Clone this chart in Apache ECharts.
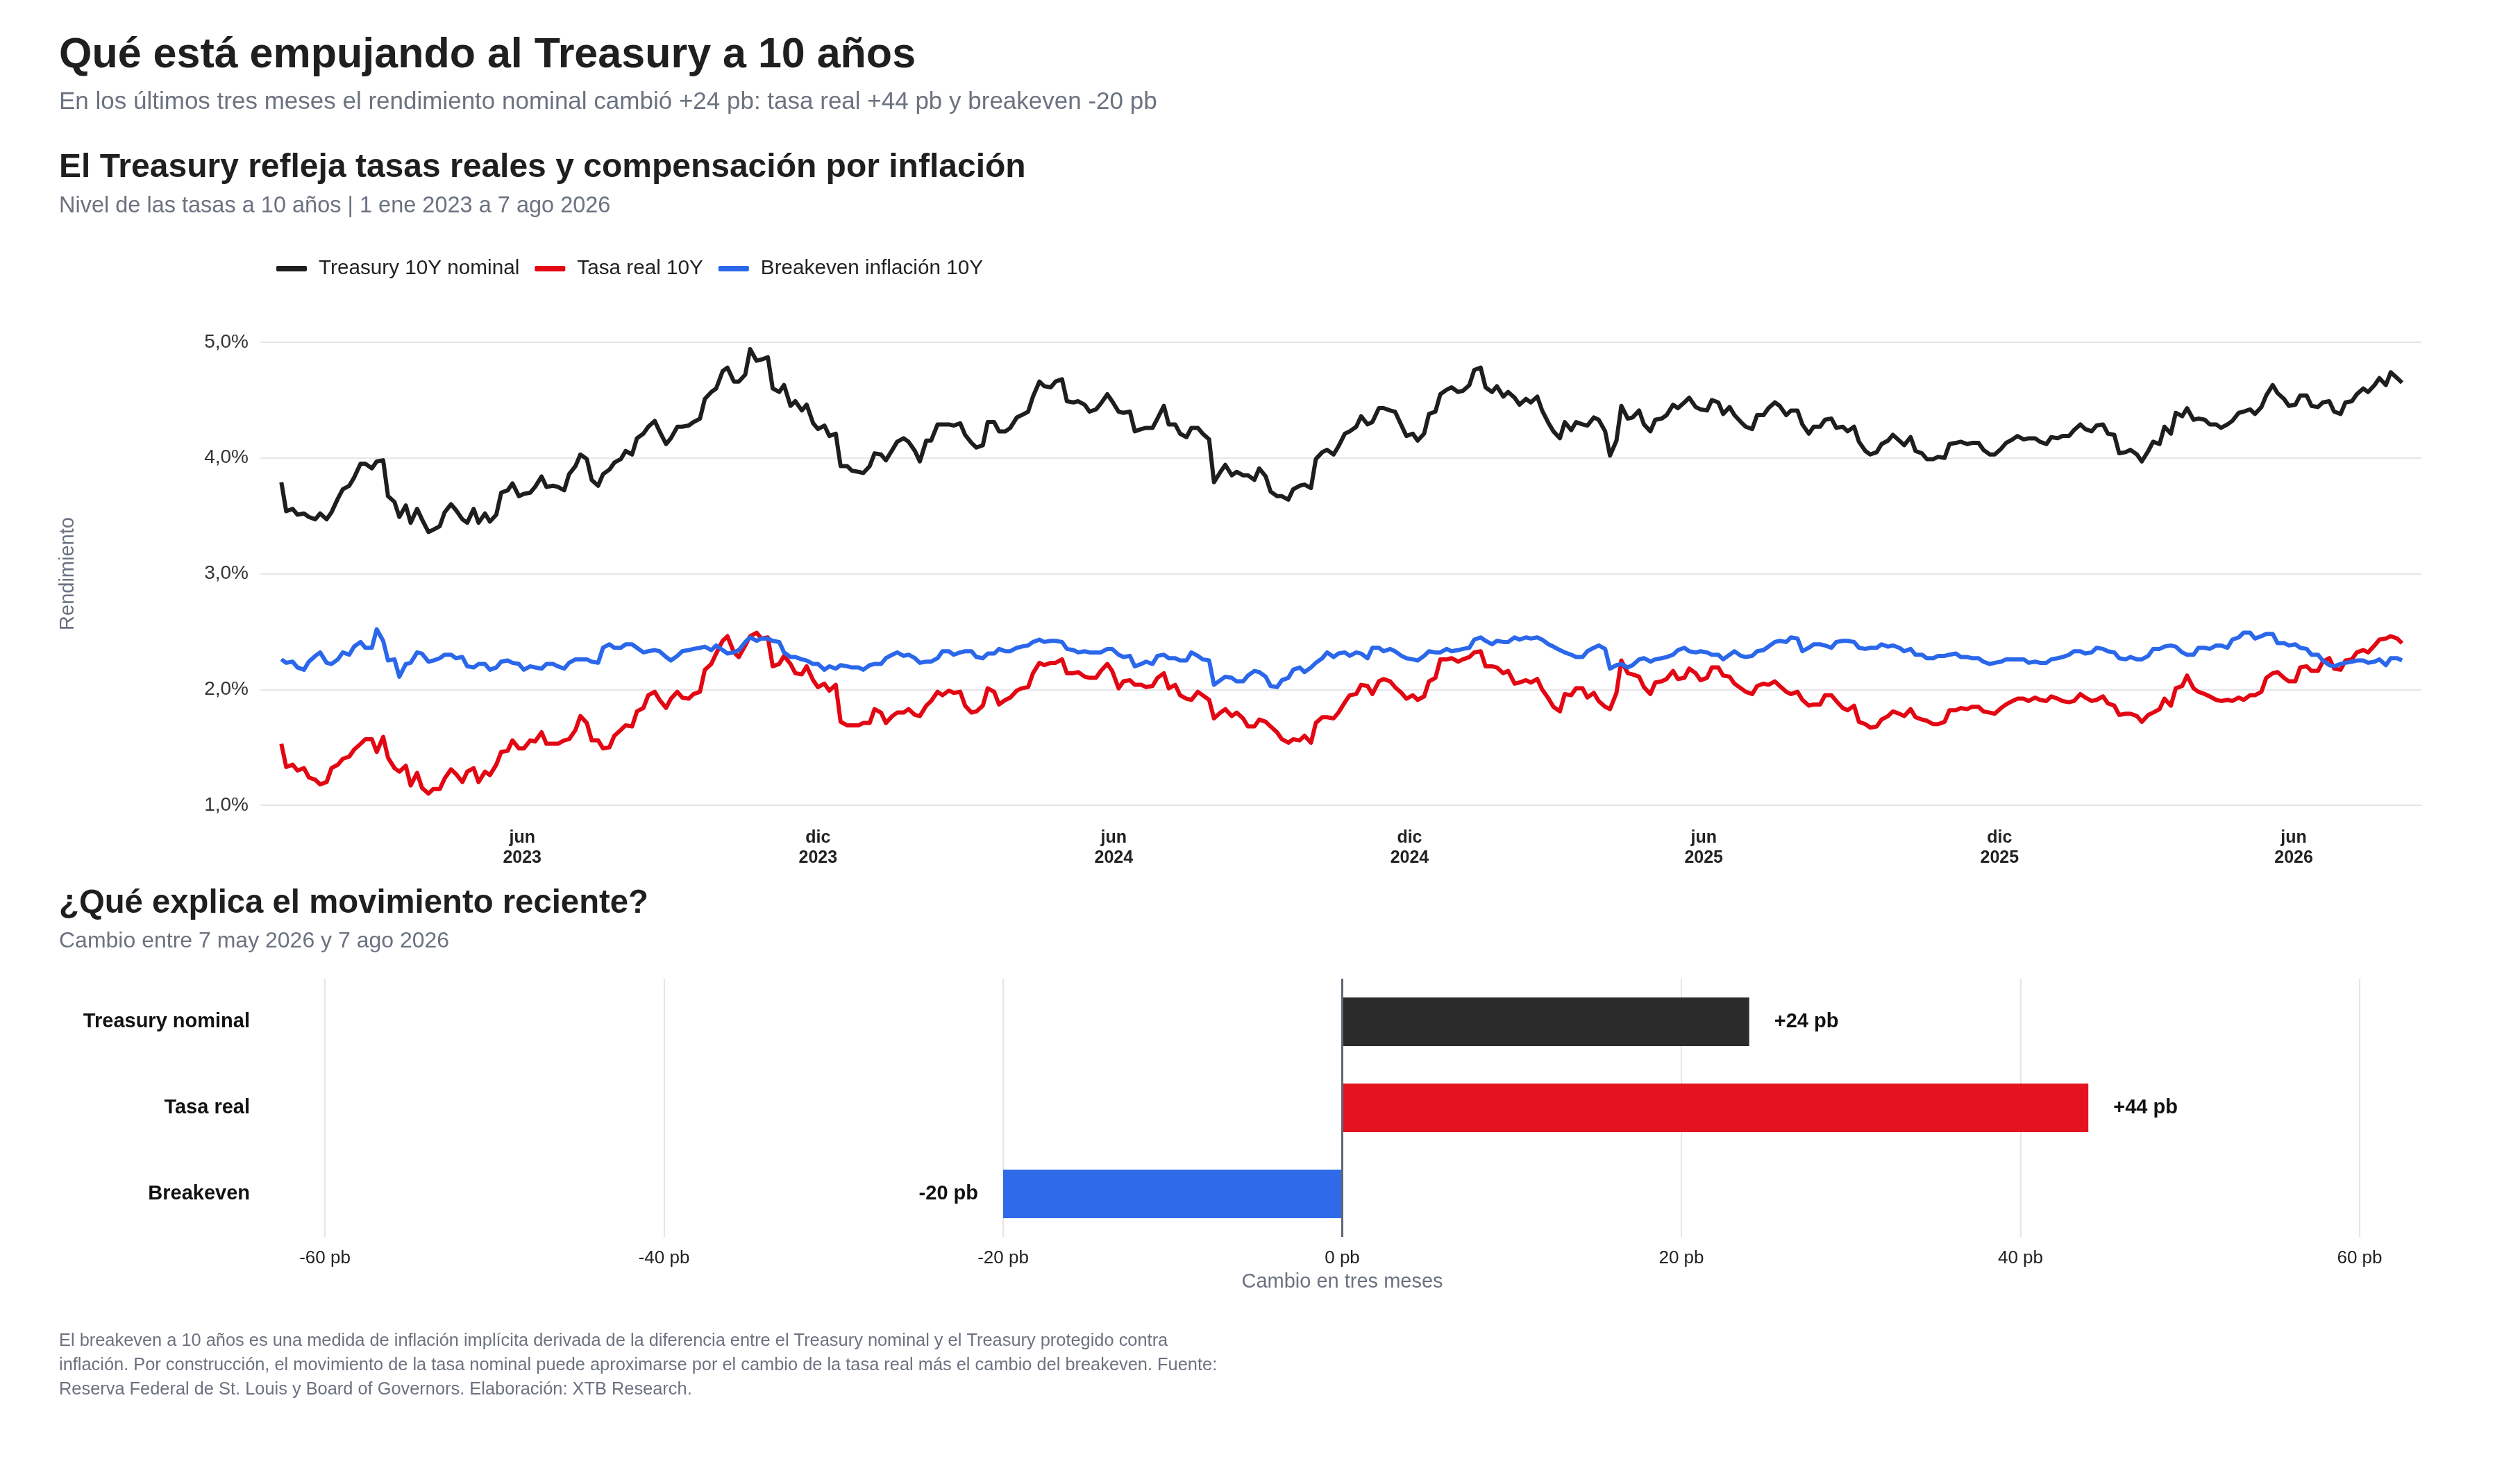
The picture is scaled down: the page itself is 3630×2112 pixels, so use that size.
<!DOCTYPE html>
<html lang="es">
<head>
<meta charset="utf-8">
<title>Treasury a 10 años</title>
<script src="https://cdn.jsdelivr.net/npm/echarts@6.0.0/dist/echarts.min.js"></script>
<style>
  html, body { margin: 0; padding: 0; background: #fff; }
  #main { width: 3630px; height: 2112px; }
</style>
</head>
<body>
<div id="main"></div>
<script>
/* datos: dos puntos por semana (martes y viernes),
   desde el martes 3 ene 2023 hasta el viernes 7 ago 2026 */
var inicio = [2023, 0, 3];

var nominal = [
	3.79, 3.54, 3.56, 3.51, 3.52, 3.49, 3.47, 3.52, 3.47, 3.53,
	3.65, 3.73, 3.76, 3.83, 3.95, 3.95, 3.91, 3.97, 3.98, 3.67,
	3.62, 3.49, 3.59, 3.44, 3.56, 3.47, 3.36, 3.38, 3.41, 3.53,
	3.60, 3.55, 3.47, 3.44, 3.56, 3.44, 3.52, 3.45, 3.51, 3.70,
	3.72, 3.78, 3.67, 3.69, 3.70, 3.75, 3.84, 3.75, 3.76, 3.75,
	3.72, 3.86, 3.93, 4.03, 3.99, 3.81, 3.76, 3.86, 3.90, 3.96,
	3.99, 4.06, 4.03, 4.17, 4.21, 4.27, 4.32, 4.23, 4.12, 4.17,
	4.27, 4.27, 4.28, 4.31, 4.34, 4.51,
	4.57, 4.60, 4.75, 4.78, 4.66, 4.66, 4.72, 4.94, 4.84, 4.85,
	4.87, 4.60, 4.57, 4.63, 4.45, 4.49, 4.41, 4.46, 4.30, 4.25,
	4.28, 4.19, 4.21, 3.93, 3.93, 3.89, 3.88, 3.87, 3.93, 4.04,
	4.03, 3.98, 4.07, 4.14, 4.17, 4.14, 4.06, 3.97, 4.15, 4.15,
	4.29, 4.29, 4.29, 4.28, 4.30, 4.20, 4.13, 4.09, 4.11, 4.31,
	4.31, 4.23, 4.23, 4.26, 4.35, 4.37, 4.40, 4.53, 4.66, 4.62,
	4.61, 4.66, 4.68, 4.49, 4.48, 4.49, 4.46, 4.40, 4.42, 4.47,
	4.55, 4.49, 4.40, 4.39, 4.40, 4.23,
	4.25, 4.26, 4.26, 4.34, 4.45, 4.29, 4.29, 4.21, 4.18, 4.26,
	4.26, 4.21, 4.16, 3.79, 3.88, 3.94, 3.85, 3.88, 3.85, 3.85,
	3.81, 3.91, 3.84, 3.71, 3.67, 3.67, 3.64, 3.73, 3.76, 3.77,
	3.74, 3.99, 4.05, 4.07, 4.03, 4.10, 4.21, 4.23, 4.27, 4.36,
	4.29, 4.31, 4.43, 4.43, 4.41, 4.40, 4.28, 4.19, 4.21, 4.15,
	4.21, 4.38, 4.40, 4.55, 4.59, 4.61, 4.57, 4.58, 4.63, 4.76,
	4.78, 4.61, 4.57, 4.62, 4.53, 4.57, 4.52, 4.46, 4.51, 4.48,
	4.53, 4.41, 4.30, 4.23, 4.17, 4.31,
	4.24, 4.31, 4.29, 4.28, 4.35, 4.33, 4.23, 4.02, 4.15, 4.45,
	4.34, 4.35, 4.41, 4.29, 4.23, 4.33, 4.34, 4.37, 4.46, 4.43,
	4.48, 4.52, 4.44, 4.42, 4.41, 4.50, 4.48, 4.38, 4.44, 4.37,
	4.31, 4.27, 4.25, 4.37, 4.37, 4.43, 4.48, 4.45, 4.37, 4.41,
	4.41, 4.29, 4.21, 4.27, 4.27, 4.33, 4.34, 4.26, 4.27, 4.23,
	4.27, 4.14, 4.06, 4.03, 4.05, 4.12, 4.15, 4.20, 4.15, 4.11,
	4.18, 4.06, 4.04, 3.99, 3.99, 4.01, 4.00, 4.12, 4.13, 4.14,
	4.12, 4.13, 4.13, 4.07, 4.03, 4.03,
	4.08, 4.13, 4.16, 4.19, 4.16, 4.17, 4.17, 4.14, 4.12, 4.18,
	4.17, 4.19, 4.19, 4.24, 4.29, 4.25, 4.23, 4.28, 4.29, 4.21,
	4.20, 4.04, 4.05, 4.07, 4.03, 3.97, 4.06, 4.14, 4.12, 4.27,
	4.21, 4.39, 4.36, 4.43, 4.33, 4.34, 4.33, 4.29, 4.29, 4.26,
	4.29, 4.32, 4.39, 4.40, 4.42, 4.38, 4.44, 4.54, 4.63, 4.56,
	4.51, 4.45, 4.46, 4.54, 4.54, 4.45, 4.44, 4.48, 4.49, 4.40,
	4.38, 4.48, 4.49, 4.55, 4.60, 4.57, 4.63, 4.69, 4.63, 4.74,
	4.69, 4.65
];

var real = [
	1.53, 1.33, 1.35, 1.30, 1.32, 1.24, 1.22, 1.18, 1.20, 1.32,
	1.35, 1.40, 1.42, 1.48, 1.53, 1.57, 1.57, 1.46, 1.59, 1.41,
	1.32, 1.29, 1.34, 1.17, 1.28, 1.15, 1.10, 1.14, 1.14, 1.23,
	1.31, 1.27, 1.20, 1.29, 1.32, 1.20, 1.29, 1.26, 1.35, 1.46,
	1.47, 1.56, 1.49, 1.49, 1.56, 1.55, 1.63, 1.53, 1.53, 1.53,
	1.56, 1.57, 1.65, 1.77, 1.71, 1.56, 1.56, 1.49, 1.50, 1.60,
	1.65, 1.69, 1.68, 1.81, 1.84, 1.95, 1.98, 1.91, 1.84, 1.92,
	1.98, 1.93, 1.92, 1.96, 1.98, 2.17,
	2.22, 2.31, 2.42, 2.46, 2.32, 2.28, 2.38, 2.46, 2.49, 2.44,
	2.45, 2.20, 2.22, 2.29, 2.22, 2.14, 2.13, 2.20, 2.08, 2.02,
	2.05, 1.99, 2.04, 1.72, 1.69, 1.69, 1.69, 1.71, 1.71, 1.83,
	1.80, 1.71, 1.77, 1.80, 1.80, 1.83, 1.78, 1.77, 1.86, 1.90,
	1.98, 1.95, 1.99, 1.97, 1.98, 1.86, 1.80, 1.81, 1.86, 2.01,
	1.98, 1.87, 1.91, 1.93, 1.99, 2.01, 2.02, 2.14, 2.23, 2.21,
	2.23, 2.23, 2.26, 2.14, 2.14, 2.15, 2.11, 2.10, 2.10, 2.16,
	2.22, 2.16, 2.01, 2.07, 2.08, 2.04,
	2.04, 2.02, 2.03, 2.10, 2.14, 2.01, 2.04, 1.95, 1.92, 1.91,
	1.98, 1.95, 1.91, 1.75, 1.80, 1.83, 1.77, 1.80, 1.75, 1.68,
	1.68, 1.74, 1.72, 1.68, 1.63, 1.57, 1.54, 1.57, 1.56, 1.60,
	1.54, 1.71, 1.76, 1.76, 1.75, 1.80, 1.89, 1.95, 1.96, 2.04,
	2.03, 1.96, 2.07, 2.09, 2.07, 2.02, 1.97, 1.92, 1.95, 1.91,
	1.94, 2.07, 2.10, 2.26, 2.26, 2.27, 2.24, 2.26, 2.28, 2.32,
	2.33, 2.20, 2.20, 2.19, 2.14, 2.16, 2.05, 2.06, 2.08, 2.06,
	2.09, 2.00, 1.92, 1.85, 1.81, 1.96,
	1.95, 2.01, 2.01, 1.93, 1.97, 1.90, 1.85, 1.83, 1.97, 2.25,
	2.14, 2.13, 2.11, 2.02, 1.96, 2.06, 2.07, 2.09, 2.16, 2.09,
	2.10, 2.18, 2.14, 2.08, 2.10, 2.19, 2.19, 2.12, 2.11, 2.05,
	2.01, 1.98, 1.96, 2.03, 2.05, 2.04, 2.07, 2.03, 1.98, 1.96,
	1.98, 1.91, 1.86, 1.87, 1.87, 1.95, 1.95, 1.90, 1.84, 1.82,
	1.86, 1.72, 1.70, 1.67, 1.68, 1.74, 1.77, 1.81, 1.79, 1.77,
	1.83, 1.76, 1.74, 1.73, 1.70, 1.70, 1.72, 1.82, 1.82, 1.84,
	1.83, 1.85, 1.85, 1.81, 1.80, 1.79,
	1.84, 1.87, 1.90, 1.92, 1.92, 1.90, 1.93, 1.91, 1.90, 1.94,
	1.92, 1.90, 1.89, 1.90, 1.96, 1.93, 1.90, 1.91, 1.94, 1.88,
	1.86, 1.78, 1.79, 1.79, 1.77, 1.72, 1.78, 1.80, 1.83, 1.92,
	1.86, 2.01, 2.03, 2.12, 2.01, 1.98, 1.96, 1.94, 1.91, 1.90,
	1.91, 1.90, 1.93, 1.91, 1.95, 1.95, 1.98, 2.10, 2.14, 2.15,
	2.10, 2.07, 2.07, 2.19, 2.20, 2.16, 2.16, 2.24, 2.27, 2.18,
	2.17, 2.25, 2.26, 2.32, 2.34, 2.32, 2.38, 2.43, 2.44, 2.46,
	2.44, 2.40
];

var breakeven = [
	2.26, 2.23, 2.24, 2.19, 2.17, 2.24, 2.29, 2.32, 2.23, 2.22,
	2.26, 2.32, 2.30, 2.37, 2.41, 2.36, 2.36, 2.52, 2.42, 2.25,
	2.26, 2.11, 2.22, 2.23, 2.32, 2.31, 2.24, 2.25, 2.27, 2.30,
	2.30, 2.27, 2.28, 2.20, 2.19, 2.22, 2.22, 2.17, 2.19, 2.24,
	2.25, 2.23, 2.22, 2.17, 2.20, 2.19, 2.18, 2.22, 2.22, 2.20,
	2.18, 2.23, 2.26, 2.26, 2.26, 2.24, 2.23, 2.36, 2.39, 2.36,
	2.36, 2.39, 2.39, 2.36, 2.32, 2.33, 2.34, 2.33, 2.28, 2.25,
	2.29, 2.33, 2.34, 2.35, 2.36, 2.37,
	2.34, 2.38, 2.34, 2.31, 2.32, 2.34, 2.41, 2.45, 2.42, 2.44,
	2.44, 2.42, 2.41, 2.32, 2.28, 2.28, 2.26, 2.25, 2.22, 2.22,
	2.17, 2.20, 2.18, 2.21, 2.20, 2.19, 2.19, 2.17, 2.21, 2.22,
	2.22, 2.27, 2.30, 2.32, 2.29, 2.30, 2.27, 2.23, 2.24, 2.24,
	2.27, 2.33, 2.33, 2.30, 2.32, 2.33, 2.33, 2.28, 2.27, 2.31,
	2.31, 2.35, 2.33, 2.33, 2.36, 2.37, 2.38, 2.41, 2.43, 2.41,
	2.42, 2.42, 2.41, 2.35, 2.34, 2.32, 2.33, 2.32, 2.32, 2.32,
	2.35, 2.35, 2.30, 2.28, 2.29, 2.20,
	2.22, 2.24, 2.22, 2.29, 2.30, 2.27, 2.27, 2.25, 2.25, 2.32,
	2.29, 2.26, 2.25, 2.04, 2.08, 2.11, 2.10, 2.07, 2.07, 2.12,
	2.16, 2.15, 2.11, 2.03, 2.02, 2.08, 2.10, 2.17, 2.19, 2.15,
	2.19, 2.23, 2.27, 2.32, 2.28, 2.31, 2.32, 2.29, 2.32, 2.31,
	2.27, 2.36, 2.36, 2.33, 2.35, 2.33, 2.29, 2.27, 2.26, 2.25,
	2.29, 2.33, 2.32, 2.32, 2.35, 2.33, 2.34, 2.35, 2.36, 2.43,
	2.45, 2.42, 2.39, 2.42, 2.41, 2.41, 2.45, 2.43, 2.45, 2.44,
	2.45, 2.43, 2.39, 2.37, 2.34, 2.32,
	2.30, 2.28, 2.28, 2.33, 2.36, 2.38, 2.35, 2.18, 2.21, 2.22,
	2.19, 2.21, 2.26, 2.27, 2.24, 2.26, 2.27, 2.28, 2.30, 2.34,
	2.36, 2.33, 2.32, 2.33, 2.32, 2.30, 2.30, 2.26, 2.30, 2.33,
	2.29, 2.28, 2.29, 2.33, 2.34, 2.37, 2.41, 2.42, 2.41, 2.45,
	2.44, 2.33, 2.36, 2.39, 2.39, 2.38, 2.36, 2.41, 2.42, 2.42,
	2.41, 2.36, 2.35, 2.36, 2.36, 2.39, 2.37, 2.38, 2.36, 2.33,
	2.35, 2.30, 2.30, 2.27, 2.27, 2.29, 2.29, 2.30, 2.31, 2.28,
	2.28, 2.27, 2.27, 2.24, 2.22, 2.23,
	2.24, 2.26, 2.26, 2.26, 2.26, 2.23, 2.24, 2.23, 2.23, 2.26,
	2.27, 2.28, 2.30, 2.33, 2.33, 2.31, 2.32, 2.36, 2.35, 2.33,
	2.32, 2.27, 2.26, 2.28, 2.26, 2.26, 2.29, 2.35, 2.35, 2.37,
	2.38, 2.37, 2.32, 2.30, 2.30, 2.36, 2.36, 2.35, 2.38, 2.38,
	2.36, 2.43, 2.45, 2.49, 2.49, 2.44, 2.46, 2.48, 2.48, 2.40,
	2.40, 2.38, 2.39, 2.36, 2.35, 2.30, 2.30, 2.25, 2.21, 2.20,
	2.22, 2.23, 2.24, 2.25, 2.25, 2.23, 2.24, 2.26, 2.21, 2.27,
	2.27, 2.25
];

/* cambio en tres meses, en puntos básicos */
var categorias = ['Treasury nominal', 'Tasa real', 'Breakeven'];
var cambios = [24, 44, -20];
var coloresBarra = ['#2b2b2b', '#e3141f', '#2f6be8'];

var meses = ['ene', 'feb', 'mar', 'abr', 'may', 'jun', 'jul', 'ago', 'sep', 'oct', 'nov', 'dic'];

var fuente = 'Liberation Sans, Arial, Helvetica, sans-serif';
var gris = '#6b7280';
var dia = 24 * 3600 * 1000;

/* fecha de cada punto: martes y viernes de cada semana */
var fechas = [];
for (var i = 0; i < nominal.length; i++) {
	var semana = Math.floor(i / 2);
	var extra = (i % 2) ? 3 : 0;
	fechas.push(new Date(inicio[0], inicio[1], inicio[2] + 7 * semana + extra).getTime());
}

function pares(valores) {
	var out = [];
	for (var i = 0; i < valores.length; i++) {
		out.push([fechas[i], valores[i]]);
	}
	return out;
}

var chart = echarts.init(document.getElementById('main'));

var option = {
	backgroundColor: '#ffffff',
	animation: false,
	textStyle: { fontFamily: fuente },
	title: [{
		text: 'Qué está empujando al Treasury a 10 años',
		left: 85, top: 47, padding: 0,
		textStyle: { fontSize: 61, fontWeight: 'bold', color: '#1f1f1f', lineHeight: 66, fontFamily: fuente }
	}, {
		text: 'En los últimos tres meses el rendimiento nominal cambió +24 pb: tasa real +44 pb y breakeven -20 pb',
		left: 85, top: 127, padding: 0,
		textStyle: { fontSize: 35, fontWeight: 'normal', color: gris, lineHeight: 40, fontFamily: fuente }
	}, {
		text: 'El Treasury refleja tasas reales y compensación por inflación',
		left: 85, top: 215, padding: 0,
		textStyle: { fontSize: 48, fontWeight: 'bold', color: '#1f1f1f', lineHeight: 54, fontFamily: fuente }
	}, {
		text: 'Nivel de las tasas a 10 años | 1 ene 2023 a 7 ago 2026',
		left: 85, top: 278, padding: 0,
		textStyle: { fontSize: 32.5, fontWeight: 'normal', color: gris, lineHeight: 38, fontFamily: fuente }
	}, {
		text: '¿Qué explica el movimiento reciente?',
		left: 85, top: 1275, padding: 0,
		textStyle: { fontSize: 47.3, fontWeight: 'bold', color: '#1f1f1f', lineHeight: 54, fontFamily: fuente }
	}, {
		text: 'Cambio entre 7 may 2026 y 7 ago 2026',
		left: 85, top: 1337, padding: 0,
		textStyle: { fontSize: 32, fontWeight: 'normal', color: gris, lineHeight: 38, fontFamily: fuente }
	}, {
		text: 'El breakeven a 10 años es una medida de inflación implícita derivada de la diferencia entre el Treasury nominal y el Treasury protegido contra\n' +
			'inflación. Por construcción, el movimiento de la tasa nominal puede aproximarse por el cambio de la tasa real más el cambio del breakeven. Fuente:\n' +
			'Reserva Federal de St. Louis y Board of Governors. Elaboración: XTB Research.',
		left: 85, top: 1914, padding: 0,
		textStyle: { fontSize: 25.4, fontWeight: 'normal', color: gris, lineHeight: 35, fontFamily: fuente }
	}],
	legend: {
		data: ['Treasury 10Y nominal', 'Tasa real 10Y', 'Breakeven inflación 10Y'],
		left: 398, top: 372, padding: 0,
		icon: 'roundRect',
		itemWidth: 44, itemHeight: 8, itemGap: 22,
		textStyle: { fontSize: 29.7, color: '#222', padding: [0, 0, 0, 12] }
	},
	grid: [
		{ left: 375, right: 142, top: 493, height: 667 },
		{ left: 468, right: 231, top: 1410, height: 372 }
	],
	xAxis: [{
		type: 'time',
		gridIndex: 0,
		min: new Date(2022, 11, 21).getTime(),
		max: new Date(2026, 7, 19).getTime(),
		splitNumber: 44,
		minInterval: 28 * dia,
		maxInterval: 31 * dia,
		axisLine: { show: false },
		axisTick: { show: false },
		splitLine: { show: false },
		axisLabel: {
			showMinLabel: false,
			showMaxLabel: false,
			fontSize: 25,
			fontWeight: 'bold',
			color: '#222',
			lineHeight: 29,
			margin: 33,
			formatter: function(v) {
				var d = new Date(v);
				var m = d.getMonth();
				if (d.getDate() !== 1) return '';
				if (m === 5 || m === 11) return meses[m] + '\n' + d.getFullYear();
				return '';
			}
		}
	}, {
		type: 'value',
		gridIndex: 1,
		min: -60, max: 60, interval: 20,
		axisLine: { show: false },
		axisTick: { show: false },
		splitLine: { lineStyle: { color: '#e6e6ea', width: 2 } },
		axisLabel: {
			fontSize: 26, color: '#222', margin: 18,
			formatter: function(v) { return v + ' pb'; }
		},
		name: 'Cambio en tres meses',
		nameLocation: 'middle',
		nameGap: 50,
		nameTextStyle: { fontSize: 29, color: gris }
	}],
	yAxis: [{
		type: 'value',
		gridIndex: 0,
		min: 1, max: 5, interval: 1,
		axisLine: { show: false },
		axisTick: { show: false },
		splitLine: { lineStyle: { color: '#e6e6ea', width: 2 } },
		axisLabel: {
			fontSize: 28, color: '#333', margin: 17,
			formatter: function(v) { return v.toFixed(1).replace('.', ',') + '%'; }
		},
		name: 'Rendimiento',
		nameLocation: 'middle',
		nameGap: 263,
		nameTextStyle: { fontSize: 29, color: gris }
	}, {
		type: 'category',
		gridIndex: 1,
		data: categorias,
		inverse: true,
		axisLine: { show: false },
		axisTick: { show: false },
		splitLine: { show: false },
		axisLabel: { fontSize: 29, fontWeight: 'bold', color: '#111', margin: 108 }
	}],
	series: [{
		name: 'Treasury 10Y nominal',
		type: 'line',
		xAxisIndex: 0, yAxisIndex: 0,
		data: pares(nominal),
		symbol: 'none',
		lineStyle: { width: 6, color: '#1e1e1e', join: 'round' },
		itemStyle: { color: '#1e1e1e' }
	}, {
		name: 'Tasa real 10Y',
		type: 'line',
		xAxisIndex: 0, yAxisIndex: 0,
		data: pares(real),
		symbol: 'none',
		lineStyle: { width: 6, color: '#e30613', join: 'round' },
		itemStyle: { color: '#e30613' }
	}, {
		name: 'Breakeven inflación 10Y',
		type: 'line',
		xAxisIndex: 0, yAxisIndex: 0,
		data: pares(breakeven),
		symbol: 'none',
		lineStyle: { width: 6, color: '#2b67ea', join: 'round' },
		itemStyle: { color: '#2b67ea' }
	}, {
		name: 'Cambio',
		type: 'bar',
		xAxisIndex: 1, yAxisIndex: 1,
		barWidth: 70,
		data: cambios.map(function(v, i) {
			return {
				value: v,
				itemStyle: { color: coloresBarra[i] },
				label: { position: v < 0 ? 'left' : 'right' }
			};
		}),
		label: {
			show: true,
			distance: 36,
			fontSize: 29,
			fontWeight: 'bold',
			color: '#111',
			formatter: function(p) { return (p.value > 0 ? '+' : '') + p.value + ' pb'; }
		},
		markLine: {
			silent: true,
			symbol: 'none',
			label: { show: false },
			lineStyle: { color: '#5f6673', width: 3, type: 'solid' },
			data: [{ xAxis: 0 }]
		}
	}]
};

chart.setOption(option);
</script>
</body>
</html>
